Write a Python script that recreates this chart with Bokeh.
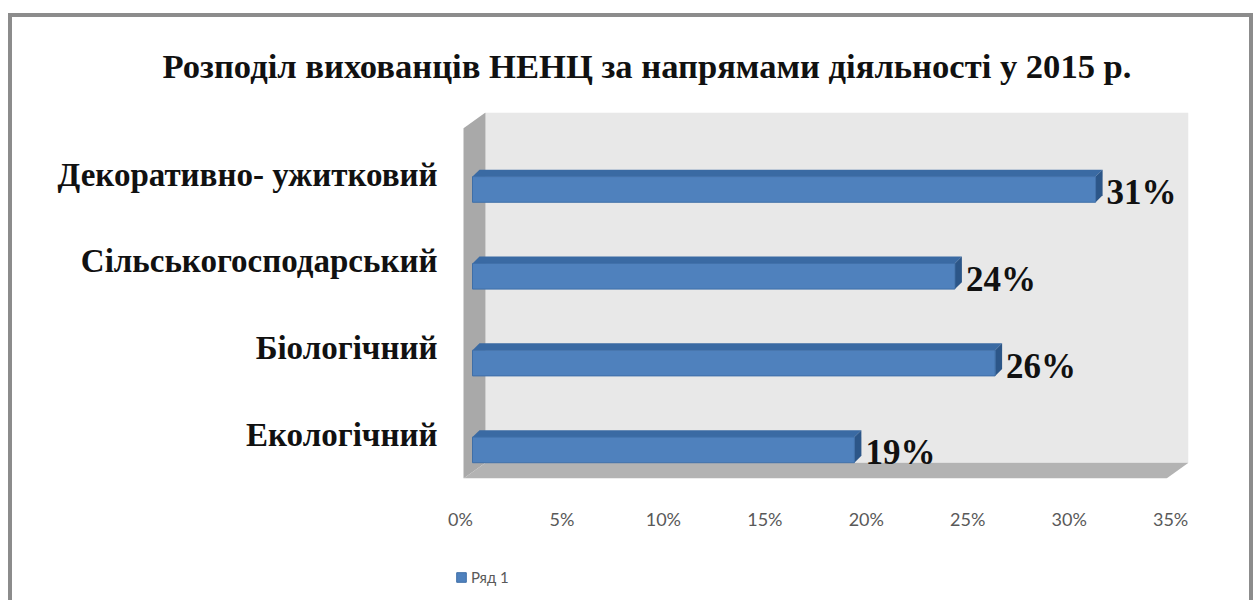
from bokeh.plotting import figure
from bokeh.models import (Range1d, LinearAxis, FixedTicker, PrintfTickFormatter,
                          Legend, LegendItem, Title, ColumnDataSource, Spacer)
from bokeh.layouts import column, row
from bokeh.core.properties import value
from bokeh.embed import file_html
from bokeh.resources import INLINE

# ---- data (bottom to top) ----
categories = ["Екологічний", "Біологічний", "Сільськогосподарський", "Декоративно- ужитковий"]
values = [19, 26, 24, 31]
value_labels = ["19%", "26%", "24%", "31%"]
x_ticks = [0, 5, 10, 15, 20, 25, 30, 35]
series_name = "Ряд 1"
title_text = "Розподіл вихованців НЕНЦ за напрямами діяльності у 2015 р."

# ---- layout constants (page pixels) ----
ML, MT, BW = 8, 13, 4        # page margin before border, border width
OX, OY = ML + BW, MT + BW    # canvas origin on the page
W = 1237
H_MAIN_END = 540             # page y where the main figure ends
H_LEG = 60
H = H_MAIN_END - OY
F_L, F_R, F_T, F_B = 455, 1188, 107, 478   # plot frame on the page
PX_X = 20.1      # px per percent (bars)
PX_X_AX = 20.29  # px per percent (axis labels at the floor's front edge)
PX_Y = 88.0      # px per category
BAR0 = 472       # page x of bar zero
AX0 = 460        # page x of axis zero
YC0 = 449        # page y of bottom bar centre
WALL_L = 463     # page x of side wall front edge
LEG_X = 415      # page x of legend swatch
LEG_SHIFT = 42   # observed extra offset of the legend inside its strip

frame_w = F_R - F_L
x_start = (F_L - BAR0) / PX_X
x_end = x_start + frame_w / PX_X
y_start = (YC0 - F_B) / PX_Y
y_end = (YC0 - F_T) / PX_Y
xw = (WALL_L - BAR0) / PX_X

DX = 22 / PX_X   # wall depth
DY = 16 / PX_Y
BDX = 7 / PX_X   # bar depth
BDY = 7 / PX_Y
BH = 13 / PX_Y   # half bar height

BLUE = "#4f81bd"
BLUE_TOP = "#3a6aa3"
BLUE_SIDE = "#2c5688"
BORDER = "#8c8c8c"

p = figure(width=W, height=H, output_backend="svg", toolbar_location=None,
           x_range=Range1d(x_start, x_end), y_range=Range1d(y_start, y_end),
           x_axis_location=None, y_axis_location=None,
           min_border_left=F_L - OX, min_border_right=W - (F_R - OX),
           min_border_top=F_T - OY, min_border_bottom=H_MAIN_END - F_B)
p.outline_line_color = None
p.xgrid.visible = False
p.ygrid.visible = False
p.background_fill_color = "white"
p.border_fill_color = "white"

# walls
p.quad(left=xw + DX, right=x_end, bottom=y_start + DY, top=y_end,
       fill_color="#e8e8e8", line_color=None)
p.patch([xw, xw + DX, xw + DX, xw],
        [y_end - DY, y_end, y_start + DY, y_start],
        fill_color="#a9a9a9", line_color=None)
p.patch([xw, xw + DX, x_end, x_end - DX],
        [y_start, y_start + DY, y_start + DY, y_start],
        fill_color="#b3b3b3", line_color=None)

# bars
ypos = list(range(len(categories)))
src = ColumnDataSource(dict(y=ypos, v=values, lab=value_labels,
                            b=[y - BH for y in ypos], t=[y + BH for y in ypos]))
top_xs = [[0, v, v + BDX, BDX] for v in values]
top_ys = [[y + BH, y + BH, y + BH + BDY, y + BH + BDY] for y in ypos]
side_xs = [[v, v + BDX, v + BDX, v] for v in values]
side_ys = [[y - BH, y - BH + BDY, y + BH + BDY, y + BH] for y in ypos]
p.patches(top_xs, top_ys, fill_color=BLUE_TOP, line_color=None)
p.patches(side_xs, side_ys, fill_color=BLUE_SIDE, line_color=None)
p.quad(left=0, right="v", bottom="b", top="t", source=src,
       fill_color=BLUE, line_color="#3f6fa8", line_width=1)

p.text(x="v", y="y", text="lab", source=src, x_offset=11, y_offset=3,
       text_font=value("Liberation Serif"), text_font_style="bold",
       text_font_size="35px", text_color="#111111", text_baseline="middle",
       text_align="left")

# x axis (front edge of floor)
ax_start = (F_L - AX0) / PX_X_AX
p.extra_x_ranges = {"ax": Range1d(ax_start, ax_start + frame_w / PX_X_AX)}
xa = LinearAxis(x_range_name="ax", ticker=FixedTicker(ticks=x_ticks),
                formatter=PrintfTickFormatter(format="%d%%"))
xa.axis_line_color = None
xa.major_tick_line_color = None
xa.minor_tick_line_color = None
xa.major_label_standoff = 23
xa.major_label_text_font = "Lato"
xa.major_label_text_font_size = "18px"
xa.major_label_text_color = "#595959"
p.add_layout(xa, "below")

# category axis
p.extra_y_ranges = {"lab": Range1d(y_start - 15 / PX_Y, y_end - 15 / PX_Y)}
ya = LinearAxis(y_range_name="lab", ticker=FixedTicker(ticks=ypos),
                major_label_overrides={i: c for i, c in zip(ypos, categories)})
ya.axis_line_color = None
ya.major_tick_line_color = None
ya.minor_tick_line_color = None
ya.major_label_standoff = 12
ya.major_label_text_font = "Liberation Serif"
ya.major_label_text_font_style = "bold"
ya.major_label_text_font_size = "33px"
ya.major_label_text_color = "#111111"
p.add_layout(ya, "left")

# title
t = Title(text=title_text, align="left", offset=162 - F_L, standoff=55,
          text_font="Liberation Serif", text_font_style="bold",
          text_font_size="34.6px", text_color="#111111")
p.add_layout(t, "above")

# legend strip (separate small figure under the chart)
pl = figure(width=W, height=H_LEG, output_backend="svg", toolbar_location=None,
            x_range=Range1d(0, 1), y_range=Range1d(0, 1),
            x_axis_location=None, y_axis_location=None,
            min_border_left=LEG_X - OX - LEG_SHIFT, min_border_right=0,
            min_border_top=20, min_border_bottom=6)
pl.outline_line_color = None
pl.xgrid.visible = False
pl.ygrid.visible = False
pl.background_fill_color = "white"
pl.border_fill_color = "white"
# swatch renderer for the legend (kept outside the strip's visible range)
swatch = pl.quad(left=[-3], right=[-2], bottom=[-3], top=[-2],
                 fill_color=BLUE, line_color="#3f6fa8")
legend = Legend(items=[LegendItem(label=series_name, renderers=[swatch])],
                location="left", orientation="horizontal",
                background_fill_alpha=0, border_line_color=None,
                label_text_font="Lato", label_text_font_size="15px",
                label_text_color="#595959", glyph_width=12, glyph_height=12,
                padding=0, margin=0, label_standoff=4)
pl.add_layout(legend, "center")

inner_h = H + H_LEG
layout = row(
    Spacer(width=ML, height=MT + BW + inner_h),
    column(
        Spacer(width=W + 2 * BW, height=MT),
        Spacer(width=W + 2 * BW, height=BW, styles={"background-color": BORDER}),
        row(Spacer(width=BW, height=inner_h, styles={"background-color": BORDER}),
            column(p, pl),
            Spacer(width=BW, height=inner_h, styles={"background-color": BORDER})),
    ),
)

open("out.html", "w").write(file_html(layout, INLINE))
